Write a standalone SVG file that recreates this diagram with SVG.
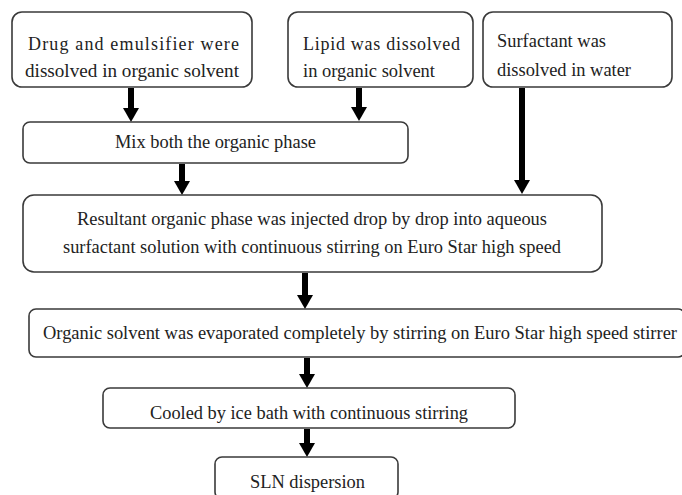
<svg xmlns="http://www.w3.org/2000/svg" width="682" height="495" viewBox="0 0 682 495">
<defs>
<style>
.box{fill:#ffffff;stroke:#3a3a3a;stroke-width:1.6}
.c{stroke:#000000;stroke-width:6;fill:none}
</style>
<marker id="ad" markerUnits="userSpaceOnUse" markerWidth="16" markerHeight="14" refX="8" refY="2" orient="0" viewBox="0 0 16 14">
<path d="M0,0 L16,0 L8,14 Z" fill="#000000"/>
</marker>
</defs>
<rect width="682" height="495" fill="#ffffff"/>
<g id="connectors">
<line class="c" x1="131" y1="88" x2="131" y2="110" marker-end="url(#ad)"/>
<line class="c" x1="359" y1="88" x2="359" y2="109" marker-end="url(#ad)"/>
<line class="c" x1="522" y1="88" x2="522" y2="182" marker-end="url(#ad)"/>
<line class="c" x1="182" y1="164" x2="182" y2="183" marker-end="url(#ad)"/>
<line class="c" x1="305" y1="273" x2="305" y2="297" marker-end="url(#ad)"/>
<line class="c" x1="307" y1="358" x2="307" y2="376" marker-end="url(#ad)"/>
<line class="c" x1="307" y1="429" x2="307" y2="445" marker-end="url(#ad)"/>
</g>
<g font-family="Liberation Serif, Times New Roman, serif" font-size="18" fill="#222222">
<g id="n1">
<rect class="box" x="12" y="12" width="240" height="75" rx="10"/>
<text x="28" y="50" textLength="211" lengthAdjust="spacing">Drug and emulsifier were</text>
<text x="25" y="77" textLength="214" lengthAdjust="spacingAndGlyphs">dissolved in organic solvent</text>
</g>
<g id="n2">
<rect class="box" x="288" y="12" width="185" height="75" rx="10"/>
<text x="303" y="50" textLength="157" lengthAdjust="spacing">Lipid was dissolved</text>
<text x="303" y="77" textLength="132" lengthAdjust="spacingAndGlyphs">in organic solvent</text>
</g>
<g id="n3">
<rect class="box" x="483" y="12" width="189" height="75" rx="10"/>
<text x="497" y="47" textLength="109" lengthAdjust="spacingAndGlyphs">Surfactant was</text>
<text x="497" y="76" textLength="134" lengthAdjust="spacingAndGlyphs">dissolved in water</text>
</g>
<g id="n4">
<rect class="box" x="23" y="122" width="385" height="41" rx="7"/>
<text x="115" y="148" textLength="201" lengthAdjust="spacingAndGlyphs">Mix both the organic phase</text>
</g>
<g id="n5">
<rect class="box" x="23" y="195" width="579" height="77" rx="11"/>
<text x="77" y="225" textLength="470" lengthAdjust="spacingAndGlyphs">Resultant organic phase was injected drop by drop into aqueous</text>
<text x="63" y="253" textLength="498" lengthAdjust="spacingAndGlyphs">surfactant solution with continuous stirring on Euro Star high speed</text>
</g>
<g id="n6">
<rect class="box" x="29" y="309" width="656" height="48" rx="7"/>
<text x="43" y="339" textLength="634" lengthAdjust="spacingAndGlyphs">Organic solvent was evaporated completely by stirring on Euro Star high speed stirrer</text>
</g>
<g id="n7">
<rect class="box" x="103" y="388" width="412" height="40" rx="7"/>
<text x="150" y="419" textLength="318" lengthAdjust="spacingAndGlyphs">Cooled by ice bath with continuous stirring</text>
</g>
<g id="n8">
<rect class="box" x="215" y="457" width="183" height="42" rx="7"/>
<text x="250" y="488" textLength="115" lengthAdjust="spacingAndGlyphs">SLN dispersion</text>
</g>
</g>
</svg>
